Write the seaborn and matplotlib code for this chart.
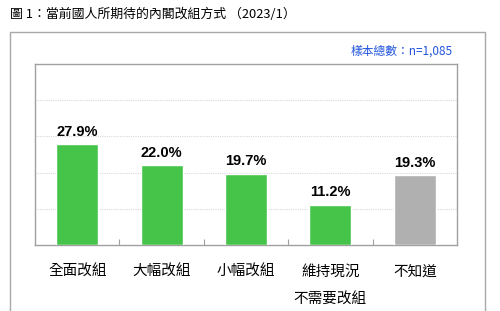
import matplotlib
matplotlib.use("Agg")
import matplotlib.pyplot as plt
import seaborn as sns
import pandas as pd
from matplotlib.patches import Rectangle

categories = ["全面改組", "大幅改組", "小幅改組", "維持現況\n不需要改組", "不知道"]
values = [27.9, 22.0, 19.7, 11.2, 19.3]
colors = ["#46C44A", "#46C44A", "#46C44A", "#46C44A", "#B0B0B0"]
value_labels = ["27.9%", "22.0%", "19.7%", "11.2%", "19.3%"]
title = "圖 1：當前國人所期待的內閣改組方式 （2023/1）"
note = "樣本總數：n=1,085"

sns.set_theme(style="white")
plt.rcParams['font.family'] = ['Noto Sans CJK TC', 'DejaVu Sans']

fig = plt.figure(figsize=(5, 3.11), dpi=100)
ax = fig.add_axes([0.07, 0.212, 0.844, 0.582])

df = pd.DataFrame({"cat": categories, "val": values})
sns.barplot(data=df, x="cat", y="val", hue="cat", palette=colors,
            width=0.5, legend=False, ax=ax, saturation=1, zorder=3)

ax.set_ylim(0, 50)
ax.set_xlim(-0.5, 4.5)
ax.set_yticks([10, 20, 30, 40])
ax.set_yticklabels([])
ax.yaxis.grid(True, linestyle=(0, (1, 1)), color="#D8D8D8", linewidth=0.8, zorder=0)
ax.xaxis.grid(False)
ax.set_axisbelow(True)
ax.tick_params(axis="y", length=0)
ax.set_xlabel("")
ax.set_ylabel("")
ax.set_xticks(range(len(categories)))
ax.set_xticklabels(categories, fontsize=10.5, color="black", linespacing=2.25, va="top")
ax.tick_params(axis="x", length=0, pad=14)
ax.set_xticks([0.5, 1.5, 2.5, 3.5], minor=True)
ax.tick_params(axis="x", which="minor", direction="in", length=4, color="#A0A0A0", width=0.8, bottom=True)
for s in ax.spines.values():
    s.set_color("#A0A0A0")
    s.set_linewidth(1.0)

for i, (v, lab) in enumerate(zip(values, value_labels)):
    ax.annotate(lab, (i, v), xytext=(0, 4), textcoords="offset points",
                ha="center", va="bottom", fontsize=10.5, fontweight="bold",
                family=["Liberation Sans", "DejaVu Sans"], color="black")

fig.text(0.02, 0.955, title, fontsize=9.3, ha="left", va="center", color="black")
fig.text(0.906, 0.836, note, fontsize=8.5, ha="right", va="center", color="#2255DD")

fig.patches.append(Rectangle((0.02, -0.05), 0.95, 0.947, transform=fig.transFigure,
                             fill=False, edgecolor="#A8A8A8", linewidth=1.0))

fig.savefig("out.png", dpi=100)
